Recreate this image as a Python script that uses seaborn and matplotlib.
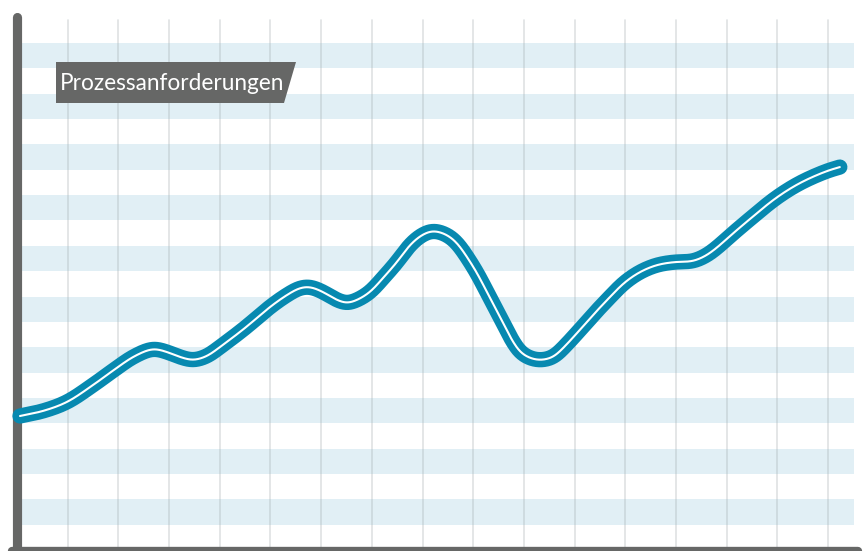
import matplotlib
matplotlib.use("Agg")
import matplotlib.pyplot as plt
from matplotlib.patches import Polygon
import seaborn as sns
import pandas as pd
import numpy as np

# ---- data (grid units) ----
x_vals = [0.059, 0.513, 0.986, 1.499, 1.992, 2.288, 2.682, 2.959, 3.215, 3.471,
          3.748, 4.004, 4.497, 4.990, 5.325, 5.582, 5.779, 6.036, 6.312, 6.509,
          6.706, 6.963, 7.219, 7.495, 7.751, 7.988, 8.205, 8.481, 8.679, 8.876,
          9.073, 9.329, 9.586, 9.783, 9.921, 10.118, 10.316, 10.572, 10.848,
          11.361, 11.696, 11.972, 12.288, 12.623, 12.978, 13.333, 13.609, 13.866,
          14.063, 14.458, 14.970, 15.444, 15.976, 16.233]
y_vals = [2.643, 2.742, 2.919, 3.254, 3.609, 3.807, 3.964, 3.905, 3.807, 3.748,
          3.826, 4.004, 4.379, 4.793, 5.030, 5.168, 5.187, 5.089, 4.931, 4.872,
          4.931, 5.089, 5.365, 5.680, 6.016, 6.213, 6.292, 6.213, 6.055, 5.779,
          5.464, 4.970, 4.477, 4.103, 3.905, 3.787, 3.748, 3.807, 4.063,
          4.635, 4.990, 5.266, 5.483, 5.621, 5.680, 5.700, 5.819, 6.016,
          6.193, 6.529, 6.943, 7.239, 7.475, 7.554]
band_rows = list(range(10))          # light bands
grid_cols = list(range(1, 17))       # vertical grid lines
title = "Prozessanforderungen"


def smooth_curve(xs, ys, n=16, sigma=0.08, step=0.01):
    """Centripetal Catmull-Rom rendering of the read points, lightly eased."""
    P = np.column_stack([xs, ys]).astype(float)
    P = np.vstack([2 * P[0] - P[1], P, 2 * P[-1] - P[-2]])
    out = []
    for i in range(1, len(P) - 2):
        p0, p1, p2, p3 = P[i - 1], P[i], P[i + 1], P[i + 2]
        t0 = 0.0
        t1 = t0 + np.linalg.norm(p1 - p0) ** 0.5
        t2 = t1 + np.linalg.norm(p2 - p1) ** 0.5
        t3 = t2 + np.linalg.norm(p3 - p2) ** 0.5
        t = np.linspace(t1, t2, n, endpoint=False)[:, None]
        a1 = (t1 - t) / (t1 - t0) * p0 + (t - t0) / (t1 - t0) * p1
        a2 = (t2 - t) / (t2 - t1) * p1 + (t - t1) / (t2 - t1) * p2
        a3 = (t3 - t) / (t3 - t2) * p2 + (t - t2) / (t3 - t2) * p3
        b1 = (t2 - t) / (t2 - t0) * a1 + (t - t0) / (t2 - t0) * a2
        b2 = (t3 - t) / (t3 - t1) * a2 + (t - t1) / (t3 - t1) * a3
        c = (t2 - t) / (t2 - t1) * b1 + (t - t1) / (t2 - t1) * b2
        out.append(c)
    out.append(P[-2][None, :])
    pts = np.vstack(out)
    # resample on a uniform x grid and ease small kinks with a gaussian kernel
    gx = np.arange(xs[0], xs[-1] + 1e-9, step)
    gy = np.interp(gx, pts[:, 0], pts[:, 1])
    half = int(4 * sigma / step)
    k = np.exp(-0.5 * (np.arange(-half, half + 1) * step / sigma) ** 2)
    k /= k.sum()
    left = 2 * gy[0] - gy[1:half + 1][::-1]
    right = 2 * gy[-1] - gy[-half - 1:-1][::-1]
    sy = np.convolve(np.concatenate([left, gy, right]), k, mode="valid")
    return pd.DataFrame({"x": gx, "y": sy})


df = smooth_curve(x_vals, y_vals)

W, H, DPI = 864, 551, 100
UNIT = 50.7
X0, Y0 = 17, 550

sns.set_theme(style="white")
plt.rcParams["font.family"] = ["Lato", "DejaVu Sans"]

fig = plt.figure(figsize=(W / DPI, H / DPI), dpi=DPI)
ax = fig.add_axes([0, 0, 1, 1])
ax.set_xlim(-X0 / UNIT, (W - X0) / UNIT)
ax.set_ylim((Y0 - H) / UNIT, Y0 / UNIT)
ax.axis("off")

band_color = "#e1eff5"
x_right = (854 - X0) / UNIT
for k in band_rows:
    ax.fill_between([0, x_right], k + 0.5, k + 1.0, color=band_color, lw=0, zorder=1)

top_grid = (Y0 - 20) / UNIT
for c in grid_cols:
    ax.plot([c, c], [0, top_grid], color="#9aa4a8", alpha=0.32, lw=1.2, zorder=2)

axis_color = "#666766"
ax.plot([0, 0], [0, (Y0 - 17) / UNIT], color=axis_color, lw=6.6,
        solid_capstyle="round", zorder=5)
ax.plot([-0.1, (W - X0 - 6) / UNIT], [-0.02, -0.02], color=axis_color, lw=6,
        solid_capstyle="round", zorder=5)

sns.lineplot(data=df, x="x", y="y", sort=False, ax=ax, color="#0789b0", lw=11,
             solid_capstyle="round", solid_joinstyle="round", zorder=6, legend=False)
sns.lineplot(data=df, x="x", y="y", sort=False, ax=ax, color="white", lw=1.5,
             solid_capstyle="round", solid_joinstyle="round", zorder=7, legend=False)

def fp(px, py):
    return (px / W, 1 - py / H)

poly = Polygon([fp(56, 62), fp(296, 62), fp(284, 103), fp(56, 103)], closed=True,
               transform=fig.transFigure, facecolor=axis_color, edgecolor="none", zorder=8)
fig.patches.append(poly)
fig.text(60 / W, 1 - 84 / H, title, color="white", fontsize=16.3, va="center",
         ha="left", zorder=9)

fig.savefig("out.png", dpi=DPI)
